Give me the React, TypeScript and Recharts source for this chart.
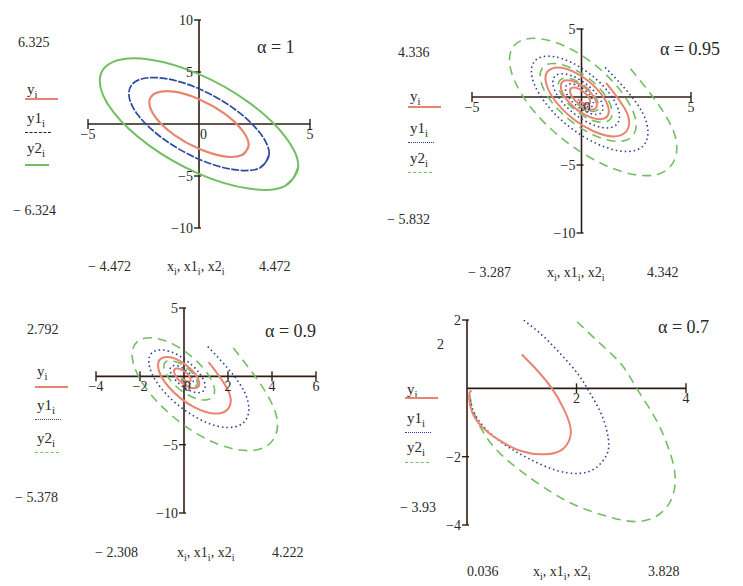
import React from 'react';
import { ScatterChart, Scatter, XAxis, YAxis, ReferenceLine, ReferenceDot } from 'recharts';

type Pt = [number, number];

// alpha = 1: closed orbits
const a1Red: Pt[] = [
  [2.24, -2.07], [1.94, -2.99], [1.12, -3.11], [0, -2.39], [-1.12, -1.04], [-1.94, 0.59],
  [-2.24, 2.07], [-1.94, 2.99], [-1.12, 3.11], [0, 2.39], [1.12, 1.04], [1.94, -0.59],
  [2.24, -2.07], [1.94, -2.99],
];
const a1Blue: Pt[] = [
  [3.16, -2.92], [2.74, -4.22], [1.58, -4.39], [0, -3.39], [-1.58, -1.47], [-2.74, 0.84],
  [-3.16, 2.92], [-2.74, 4.22], [-1.58, 4.39], [0, 3.39], [1.58, 1.47], [2.74, -0.84],
  [3.16, -2.92], [2.74, -4.22],
];
const a1Green: Pt[] = [
  [4.47, -4.13], [3.87, -5.97], [2.24, -6.21], [0, -4.79], [-2.24, -2.08], [-3.87, 1.18],
  [-4.47, 4.13], [-3.87, 5.97], [-2.24, 6.21], [0, 4.79], [2.24, 2.08], [3.87, -1.18],
  [4.47, -4.13], [3.87, -5.97],
];

// alpha = 0.95
const a95Red: Pt[] = [
  [1.12, 1.04], [2.12, -1.35], [1.81, -2.8], [0.5, -2.48], [-0.91, -0.84], [-1.62, 1.04],
  [-1.36, 2.09], [-0.38, 1.87], [0.68, 0.63], [1.23, -0.79], [1.03, -1.58], [0.29, -1.41],
  [-0.52, -0.48], [-0.93, 0.59], [-0.78, 1.2], [-0.21, 1.05], [0.39, 0.36], [0.69, -0.44],
  [0.58, -0.9], [0.16, -0.8], [-0.29, -0.27], [-0.52, 0.33], [-0.44, 0.67], [-0.12, 0.6],
  [0.22, 0.2], [0.39, -0.25], [0.33, -0.51], [0.09, -0.46], [-0.17, -0.16],
];
const a95Blue: Pt[] = [
  [1.08, 2.18], [2.8, -1.2], [2.78, -3.65], [1.17, -3.74], [-0.87, -1.77], [-2.15, 0.92],
  [-2.08, 2.73], [-0.88, 2.82], [0.66, 1.33], [1.63, -0.7], [1.57, -2.07], [0.66, -2.13],
  [-0.5, -1.0], [-1.23, 0.52], [-1.19, 1.56], [-0.5, 1.59], [0.37, 0.75], [0.92, -0.39],
  [0.89, -1.17], [0.38, -1.2], [-0.28, -0.57], [-0.69, 0.29], [-0.67, 0.88], [-0.28, 0.9],
  [0.21, 0.43], [0.51, -0.22], [0.5, -0.66], [0.21, -0.69], [-0.16, -0.33],
];
const a95Green: Pt[] = [
  [2.24, 2.08], [4.24, -2.7], [3.62, -5.6], [1.0, -4.96], [-1.82, -1.68], [-3.24, 2.08],
  [-2.72, 4.18], [-0.76, 3.74], [1.36, 1.26], [2.46, -1.58], [2.06, -3.16], [0.58, -2.82],
  [-1.04, -0.96], [-1.86, 1.18], [-1.56, 2.4], [-0.42, 2.1], [0.78, 0.72], [1.38, -0.88],
  [1.16, -1.8], [0.32, -1.6], [-0.58, -0.54], [-1.04, 0.66], [-0.88, 1.34], [-0.24, 1.2],
  [0.44, 0.4], [0.78, -0.5], [0.66, -1.02], [0.18, -0.92], [-0.34, -0.32],
];

// alpha = 0.9
const a90Red: Pt[] = [
  [1.12, 1.04], [2.08, -1.33], [1.73, -2.66], [0.46, -2.25], [-0.74, -0.69], [-1.18, 0.75],
  [-0.9, 1.39], [-0.24, 1.17], [0.4, 0.37], [0.69, -0.44], [0.55, -0.85], [0.15, -0.73],
  [-0.26, -0.24], [-0.45, 0.29], [-0.37, 0.57], [-0.1, 0.48], [0.17, 0.16], [0.3, -0.19],
  [0.25, -0.38], [0.07, -0.33], [-0.12, -0.11],
];
const a90Blue: Pt[] = [
  [1.08, 2.18], [2.76, -1.18], [2.64, -3.47], [1.06, -3.4], [-0.72, -1.45], [-1.56, 0.66],
  [-1.38, 1.81], [-0.55, 1.76], [0.39, 0.78], [0.92, -0.39], [0.85, -1.11], [0.34, -1.1],
  [-0.25, -0.5], [-0.6, 0.26], [-0.56, 0.74], [-0.23, 0.73], [0.17, 0.34], [0.4, -0.17],
  [0.38, -0.5], [0.16, -0.5], [-0.12, -0.23],
];
const a90Green: Pt[] = [
  [2.24, 2.08], [4.16, -2.66], [3.46, -5.32], [0.92, -4.5], [-1.48, -1.38], [-2.36, 1.5],
  [-1.8, 2.78], [-0.48, 2.34], [0.8, 0.74], [1.38, -0.88], [1.1, -1.7], [0.3, -1.46],
  [-0.52, -0.48], [-0.9, 0.58], [-0.74, 1.14], [-0.2, 0.96], [0.34, 0.32], [0.6, -0.38],
  [0.5, -0.76], [0.14, -0.66], [-0.24, -0.22],
];

// alpha = 0.7
const a70Red: Pt[] = [
  [1.0, 0.99], [1.25, 0.58], [1.55, 0.0], [1.76, -0.58], [1.88, -1.07], [1.88, -1.46],
  [1.73, -1.8], [1.43, -1.93], [1.0, -1.84], [0.58, -1.51], [0.27, -1.12], [0.09, -0.68],
  [0.04, -0.29], [0.05, -0.12], [0.08, -0.06],
];
const a70Blue: Pt[] = [
  [0.97, 2.07], [1.37, 1.56], [1.73, 0.97], [2.04, 0.39], [2.25, -0.15], [2.46, -0.78],
  [2.58, -1.46], [2.55, -1.95], [2.34, -2.34], [2.04, -2.49], [1.61, -2.39], [1.12, -2.05],
  [0.7, -1.66], [0.33, -1.17], [0.12, -0.68], [0.06, -0.34], [0.04, -0.12],
];
const a70Green: Pt[] = [
  [2.01, 1.95], [2.46, 1.27], [2.83, 0.68], [3.1, 0.0], [3.44, -0.88], [3.68, -1.75],
  [3.8, -2.54], [3.74, -3.22], [3.5, -3.7], [3.07, -3.9], [2.46, -3.7], [1.85, -3.32],
  [1.25, -2.73], [0.7, -2.05], [0.33, -1.37], [0.12, -0.68], [0.06, -0.29], [0.05, -0.12],
];

// printed ranges: [ymax, ymin, xmin, xmax]
const a1Range = ['6.325', '\u2212 6.324', '\u2212 4.472', '4.472'];
const a95Range = ['4.336', '\u2212 5.832', '\u2212 3.287', '4.342'];
const a90Range = ['2.792', '\u2212 5.378', '\u2212 2.308', '4.222'];
const a70Range = ['2', '\u2212 3.93', '0.036', '3.828'];

const RED = '#e8846f';
const BLUE = '#2b3f8f';
const GREEN = '#72bf63';
const AXIS = '#2f1d14';
const TEXT = '#2a2a2a';
const SERIF = '"Liberation Serif", "DejaVu Serif", serif';

type Series = { pts: Pt[]; color: string; width: number; dash?: string };
type Area = { left: number; top: number; w: number; h: number };

const toXY = (pts: Pt[]) => pts.map(([x, y]) => ({ x, y }));

function Plot({
  area, xDom, yDom, xTicks, yTicks, xLabels, yLabels, series,
}: {
  area: Area; xDom: [number, number]; yDom: [number, number];
  xTicks: number[]; yTicks: number[];
  xLabels: [number, string][]; yLabels: [number, string][];
  series: Series[];
}) {
  const M = 24;
  const dx = (xDom[1] - xDom[0]) / area.w;
  const dy = (yDom[1] - yDom[0]) / area.h;
  const font = { fill: TEXT, fontSize: 14, fontFamily: SERIF };
  return (
    <div style={{ position: 'absolute', left: area.left - M, top: area.top - M }}>
      <ScatterChart
        width={area.w + 2 * M}
        height={area.h + 2 * M}
        margin={{ top: M, right: M, bottom: M, left: M }}
      >
        <XAxis type="number" dataKey="x" domain={xDom} allowDataOverflow hide />
        <YAxis type="number" dataKey="y" domain={yDom} allowDataOverflow hide />
        {series.map((s, i) => (
          <Scatter
            key={i}
            data={toXY(s.pts)}
            fill={s.color}
            line={{ stroke: s.color, strokeWidth: s.width, strokeDasharray: s.dash }}
            lineJointType="natural"
            shape={() => <g />}
            isAnimationActive={false}
          />
        ))}
        <ReferenceLine y={0} stroke={AXIS} strokeWidth={1.6} ifOverflow="visible" />
        <ReferenceLine x={0} stroke={AXIS} strokeWidth={1.6} ifOverflow="visible" />
        {xTicks.map((v) => (
          <ReferenceLine
            key={'xt' + v}
            segment={[{ x: v, y: -5 * dy }, { x: v, y: 5 * dy }]}
            stroke={AXIS}
            strokeWidth={1.4}
            ifOverflow="visible"
          />
        ))}
        {yTicks.map((v) => (
          <ReferenceLine
            key={'yt' + v}
            segment={[{ x: -5 * dx, y: v }, { x: 2 * dx, y: v }]}
            stroke={AXIS}
            strokeWidth={1.4}
            ifOverflow="visible"
          />
        ))}
        {xLabels.map(([v, s]) => (
          <ReferenceDot
            key={'xl' + s}
            x={v}
            y={0}
            r={0}
            fill="none"
            stroke="none"
            ifOverflow="visible"
            label={{ value: s, position: 'bottom', offset: 5, ...font }}
          />
        ))}
        {yLabels.map(([v, s]) => (
          <ReferenceDot
            key={'yl' + s}
            x={0}
            y={v}
            r={0}
            fill="none"
            stroke="none"
            ifOverflow="visible"
            label={{ value: s, position: 'left', offset: 6, ...font }}
          />
        ))}
      </ScatterChart>
    </div>
  );
}

function T({ x, y, size = 14, children }: { x: number; y: number; size?: number; children: React.ReactNode }) {
  return (
    <div
      style={{
        position: 'absolute', left: x, top: y - size * 0.6, fontFamily: SERIF,
        fontSize: size, lineHeight: 1.2, color: TEXT, whiteSpace: 'nowrap',
      }}
    >
      {children}
    </div>
  );
}

function Swatch({ x, y, w, color, kind }: { x: number; y: number; w: number; color: string; kind: string }) {
  return (
    <div
      style={{
        position: 'absolute', left: x, top: y - 1, width: w,
        borderTop: `${kind === 'solid' ? 2 : 1.5}px ${kind} ${color}`,
      }}
    />
  );
}

const sub = { fontSize: '72%' };

function Side({
  x, x2, lx, range, top, bottom, legend, lines, bx, by, alpha, ax, ay, dashedGreen,
}: {
  x: number; x2: number; lx: number; range: string[]; top: number; bottom: number;
  legend: number[]; lines: number[]; bx: number[]; by: number; alpha: string;
  ax: number; ay: number; dashedGreen: boolean;
}) {
  return (
    <>
      <T x={x} y={top}>{range[0]}</T>
      <T x={lx} y={legend[0]} size={15}>y<sub style={sub}>i</sub></T>
      <Swatch x={lx - 2} y={lines[0]} w={33} color={RED} kind="solid" />
      <T x={lx} y={legend[1]} size={15}>y1<sub style={sub}>i</sub></T>
      <Swatch x={lx - 2} y={lines[1]} w={26} color={dashedGreen ? BLUE : '#222'} kind={dashedGreen ? 'dotted' : 'dashed'} />
      <T x={lx} y={legend[2]} size={15}>y2<sub style={sub}>i</sub></T>
      <Swatch x={lx - 2} y={lines[2]} w={24} color={GREEN} kind={dashedGreen ? 'dashed' : 'solid'} />
      <T x={x2} y={bottom}>{range[1]}</T>
      <T x={bx[0]} y={by}>{range[2]}</T>
      <T x={bx[1]} y={by}>
        x<sub style={sub}>i</sub>, x1<sub style={sub}>i</sub>, x2<sub style={sub}>i</sub>
      </T>
      <T x={bx[2]} y={by}>{range[3]}</T>
      <T x={ax} y={ay} size={18}>{'\u03b1 = ' + alpha}</T>
    </>
  );
}

const solid = (pts: Pt[], color: string, width = 2): Series => ({ pts, color, width });
const dotted = (pts: Pt[]): Series => ({ pts, color: BLUE, width: 1.6, dash: '1.5 3' });
const dashed = (pts: Pt[]): Series => ({ pts, color: GREEN, width: 1.6, dash: '9 6' });

export default function App() {
  return (
    <div style={{ position: 'absolute', left: 0, top: 0, width: 743, height: 586, background: '#fff', overflow: 'hidden' }}>
      <Plot
        area={{ left: 88, top: 20, w: 222, h: 208 }}
        xDom={[-5, 5]}
        yDom={[-10, 10]}
        xTicks={[-5, 5]}
        yTicks={[10, 5, -5, -10]}
        xLabels={[[-5, '\u22125'], [0.2, '0'], [5, '5']]}
        yLabels={[[10, '10'], [5, '5'], [-5, '\u22125'], [-10, '\u221210']]}
        series={[
          solid(a1Green, GREEN, 2),
          { pts: a1Blue, color: '#2c4a9e', width: 1.7, dash: '8 1.5' },
          solid(a1Red, RED, 2.2),
        ]}
      />
      <Side
        x={18} x2={13} lx={27} range={a1Range} top={43} bottom={211}
        legend={[89, 118, 148]} lines={[99, 133, 165]}
        bx={[88, 167, 259]} by={267} alpha="1" ax={257} ay={48} dashedGreen={false}
      />

      <Plot
        area={{ left: 472, top: 29, w: 219, h: 204 }}
        xDom={[-5, 5]}
        yDom={[-10, 5]}
        xTicks={[-5, 5]}
        yTicks={[5, -5, -10]}
        xLabels={[[-5, '\u22125'], [0.25, '0'], [5, '5']]}
        yLabels={[[5, '5'], [-5, '\u22125'], [-10, '\u221210']]}
        series={[dashed(a95Green), dotted(a95Blue), solid(a95Red, RED, 2)]}
      />
      <Side
        x={398} x2={387} lx={410} range={a95Range} top={53} bottom={220}
        legend={[96, 128, 158]} lines={[107, 143, 173]}
        bx={[468, 547, 647]} by={273} alpha="0.95" ax={660} ay={50} dashedGreen
      />

      <Plot
        area={{ left: 96, top: 308, w: 220, h: 205 }}
        xDom={[-4, 6]}
        yDom={[-10, 5]}
        xTicks={[-4, -2, 2, 4, 6]}
        yTicks={[5, -5, -10]}
        xLabels={[[-4, '\u22124'], [-2, '\u22122'], [0.15, '0'], [2, '2'], [4, '4'], [6, '6']]}
        yLabels={[[5, '5'], [-5, '\u22125'], [-10, '\u221210']]}
        series={[dashed(a90Green), dotted(a90Blue), solid(a90Red, RED, 2)]}
      />
      <Side
        x={27} x2={15} lx={37} range={a90Range} top={330} bottom={498}
        legend={[371, 405, 438]} lines={[387, 420, 453]}
        bx={[95, 177, 272]} by={553} alpha="0.9" ax={265} ay={332} dashedGreen
      />

      <Plot
        area={{ left: 467, top: 320, w: 219, h: 205 }}
        xDom={[0, 4]}
        yDom={[-4, 2]}
        xTicks={[2, 4]}
        yTicks={[2, -2, -4]}
        xLabels={[[2, '2'], [4, '4']]}
        yLabels={[[2, '2'], [-2, '\u22122'], [-4, '\u22124']]}
        series={[dashed(a70Green), dotted(a70Blue), solid(a70Red, RED, 2)]}
      />
      <Side
        x={437} x2={400} lx={407} range={a70Range} top={345} bottom={508}
        legend={[389, 418, 447]} lines={[398, 433, 463]}
        bx={[467, 533, 648]} by={572} alpha="0.7" ax={658} ay={328} dashedGreen
      />
    </div>
  );
}
